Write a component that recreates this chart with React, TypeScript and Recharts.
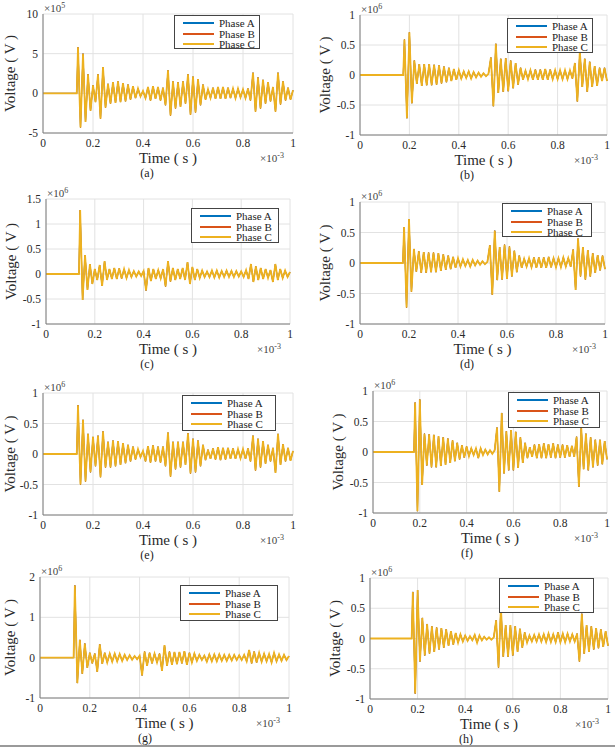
import React from 'react';
import { LineChart, Line, XAxis, YAxis, CartesianGrid, Legend } from 'recharts';

// ---------- data ----------
const xTicks = [0, 0.2, 0.4, 0.6, 0.8, 1];
const xTickLabels = ['0', '0.2', '0.4', '0.6', '0.8', '1'];
const seriesNames = ['Phase A', 'Phase B', 'Phase C'];

const timeAC = [0, 0.135, 0.14, 0.15, 0.16, 0.17, 0.18, 0.19, 0.2, 0.21, 0.22, 0.23, 0.24, 0.25, 0.26, 0.27, 0.28, 0.29, 0.3, 0.31, 0.32, 0.33, 0.34, 0.35, 0.36, 0.37, 0.38, 0.39, 0.4, 0.41, 0.42, 0.43, 0.44, 0.45, 0.46, 0.47, 0.48, 0.49, 0.5, 0.51, 0.52, 0.53, 0.54, 0.55, 0.56, 0.57, 0.58, 0.59, 0.6, 0.61, 0.62, 0.63, 0.64, 0.65, 0.66, 0.67, 0.68, 0.69, 0.7, 0.71, 0.72, 0.73, 0.74, 0.75, 0.76, 0.77, 0.78, 0.79, 0.8, 0.81, 0.82, 0.83, 0.84, 0.85, 0.86, 0.87, 0.88, 0.89, 0.9, 0.91, 0.92, 0.93, 0.94, 0.95, 0.96, 0.97, 0.98, 0.99, 1];

const timeBD = [0, 0.175, 0.18, 0.19, 0.2, 0.21, 0.22, 0.23, 0.24, 0.25, 0.26, 0.27, 0.28, 0.29, 0.3, 0.31, 0.32, 0.33, 0.34, 0.35, 0.36, 0.37, 0.38, 0.39, 0.4, 0.41, 0.42, 0.43, 0.44, 0.45, 0.46, 0.47, 0.48, 0.49, 0.5, 0.51, 0.52, 0.53, 0.54, 0.55, 0.56, 0.57, 0.58, 0.59, 0.6, 0.61, 0.62, 0.63, 0.64, 0.65, 0.66, 0.67, 0.68, 0.69, 0.7, 0.71, 0.72, 0.73, 0.74, 0.75, 0.76, 0.77, 0.78, 0.79, 0.8, 0.81, 0.82, 0.83, 0.84, 0.85, 0.86, 0.87, 0.88, 0.89, 0.9, 0.91, 0.92, 0.93, 0.94, 0.95, 0.96, 0.97, 0.98, 0.99, 1];

// (a) x10^5
const voltA = [0, 0,
  5.8, -4.3, 5.0, -3.6, 2.4, -2.2, 1.0, -1.1, 2.4, -3.2,
  3.3, -1.8, 1.2, -1.3, 1.4, -1.2, 1.5, -1.1, 1.3, -1.0,
  1.1, -0.8, 0.9, -0.6, 0.6, -0.4, 0.3, -0.6, 0.8, -0.9,
  0.9, -0.7, 0.8, -0.9, 0.7, -1.5, 2.9, -2.8, 1.5, -1.9,
  1.4, -1.7, 1.5, -1.3, 2.4, -2.7, 2.1, -2.4, 1.8, -1.5,
  1.1, -0.8, 0.5, -0.6, 0.7, -0.7, 0.8, -0.7, 0.8, -0.7,
  0.7, -0.6, 0.6, -0.6, 0.6, -0.5, 0.5, -0.6, 0.6, -0.9,
  2.6, -2.3, 2.0, -1.9, 1.7, -1.3, 1.4, -1.0, 0.8, -2.3,
  2.6, -1.4, 1.5, -0.9, 0.7, -0.8, 0.4];

// (c) x10^6
const voltC = [0, 0,
  1.28, -0.52, 0.38, -0.32, 0.20, -0.20, 0.10, -0.12, 0.18, -0.24,
  0.26, -0.12, 0.10, -0.10, 0.12, -0.10, 0.11, -0.09, 0.10, -0.08,
  0.08, -0.06, 0.06, -0.05, 0.05, -0.04, 0.06, -0.33, 0.12, -0.14,
  0.10, -0.10, 0.08, -0.09, 0.10, -0.25, 0.26, -0.15, 0.12, -0.12,
  0.10, -0.10, 0.12, -0.12, 0.24, -0.20, 0.14, -0.12, 0.10, -0.08,
  0.07, -0.06, 0.05, -0.06, 0.07, -0.07, 0.07, -0.07, 0.06, -0.06,
  0.07, -0.06, 0.06, -0.06, 0.06, -0.05, 0.05, -0.06, 0.08, -0.10,
  0.20, -0.16, 0.15, -0.12, 0.12, -0.10, 0.10, -0.08, 0.08, -0.16,
  0.20, -0.12, 0.10, -0.08, 0.07, -0.06, 0.04];

// (e) x10^6
const voltE = [0, 0,
  0.80, -0.50, 0.56, -0.45, 0.33, -0.30, 0.28, -0.20, 0.30, -0.38,
  0.37, -0.22, 0.20, -0.22, 0.22, -0.20, 0.21, -0.18, 0.18, -0.15,
  0.15, -0.12, 0.12, -0.09, 0.08, -0.05, 0.05, -0.12, 0.13, -0.14,
  0.14, -0.12, 0.12, -0.14, 0.12, -0.20, 0.35, -0.37, 0.20, -0.25,
  0.20, -0.22, 0.20, -0.18, 0.34, -0.32, 0.25, -0.30, 0.22, -0.20,
  0.15, -0.10, 0.07, -0.08, 0.09, -0.09, 0.11, -0.10, 0.10, -0.09,
  0.10, -0.08, 0.09, -0.08, 0.08, -0.07, 0.08, -0.08, 0.09, -0.12,
  0.30, -0.27, 0.25, -0.22, 0.21, -0.16, 0.15, -0.12, 0.10, -0.31,
  0.33, -0.18, 0.16, -0.12, 0.10, -0.11, 0.05];

// (g) x10^6
const voltG = [0, 0,
  1.79, -0.63, 0.44, -0.40, 0.35, -0.25, 0.12, -0.14, 0.10, -0.35,
  0.33, -0.15, 0.12, -0.12, 0.10, -0.10, 0.10, -0.09, 0.09, -0.08,
  0.07, -0.06, 0.06, -0.05, 0.04, -0.04, 0.05, -0.44, 0.15, -0.20,
  0.12, -0.14, 0.10, -0.12, 0.10, -0.33, 0.31, -0.20, 0.15, -0.18,
  0.14, -0.16, 0.14, -0.14, 0.16, -0.18, 0.12, -0.12, 0.10, -0.08,
  0.07, -0.06, 0.05, -0.10, 0.08, -0.09, 0.08, -0.09, 0.08, -0.08,
  0.07, -0.08, 0.07, -0.07, 0.07, -0.06, 0.06, -0.06, 0.07, -0.09,
  0.19, -0.14, 0.15, -0.12, 0.12, -0.10, 0.10, -0.09, 0.09, -0.12,
  0.12, -0.09, 0.08, -0.08, 0.07, -0.06, 0.04];

// (b) x10^6
const voltB = [0, 0,
  0.59, -0.72, 0.71, -0.47, 0.24, -0.15, 0.18, -0.18, 0.18, -0.17,
  0.18, -0.17, 0.17, -0.16, 0.16, -0.14, 0.14, -0.12, 0.12, -0.10,
  0.10, -0.08, 0.08, -0.06, 0.06, -0.05, 0.06, -0.06, 0.05, -0.04,
  0.04, -0.03, 0.03, -0.02, 0.02, 0.29, -0.52, 0.52, -0.30, 0.27,
  -0.28, 0.28, -0.27, 0.24, -0.22, 0.20, -0.16, 0.12, -0.08, 0.07,
  -0.07, 0.08, -0.08, 0.09, -0.08, 0.09, -0.08, 0.10, -0.08, 0.09,
  -0.07, 0.08, -0.07, 0.08, -0.07, 0.08, -0.07, 0.08, -0.06, 0.20,
  -0.44, 0.39, -0.20, 0.27, -0.28, 0.22, -0.20, 0.15, -0.18, 0.12,
  -0.10, 0.12, -0.10];

// (d) x10^6
const voltD = [0, 0,
  0.59, -0.73, 0.72, -0.47, 0.23, -0.14, 0.19, -0.16, 0.18, -0.16,
  0.17, -0.15, 0.17, -0.15, 0.16, -0.13, 0.14, -0.11, 0.12, -0.10,
  0.10, -0.08, 0.08, -0.06, 0.06, -0.05, 0.05, -0.06, 0.05, -0.04,
  0.04, -0.03, 0.03, -0.02, 0.02, 0.29, -0.52, 0.53, -0.28, 0.26,
  -0.27, 0.30, -0.26, 0.27, -0.22, 0.20, -0.15, 0.12, -0.08, 0.07,
  -0.06, 0.08, -0.07, 0.09, -0.08, 0.09, -0.08, 0.09, -0.08, 0.10,
  -0.07, 0.08, -0.07, 0.08, -0.07, 0.09, -0.06, 0.08, -0.06, 0.22,
  -0.44, 0.40, -0.22, 0.26, -0.27, 0.21, -0.22, 0.16, -0.16, 0.13,
  -0.12, 0.12, -0.10];

// (f) x10^6
const voltF = [0, 0,
  0.81, -0.97, 0.86, -0.54, 0.30, -0.22, 0.29, -0.25, 0.28, -0.25,
  0.26, -0.23, 0.24, -0.21, 0.22, -0.18, 0.19, -0.15, 0.15, -0.12,
  0.11, -0.09, 0.09, -0.07, 0.06, -0.05, 0.06, -0.10, 0.06, -0.05,
  0.04, -0.04, 0.03, -0.03, 0.03, 0.40, -0.65, 0.64, -0.35, 0.34,
  -0.30, 0.36, -0.30, 0.33, -0.26, 0.24, -0.18, 0.15, -0.10, 0.08,
  -0.08, 0.12, -0.10, 0.13, -0.10, 0.14, -0.10, 0.13, -0.09, 0.14,
  -0.10, 0.12, -0.09, 0.12, -0.09, 0.11, -0.08, 0.10, -0.08, 0.25,
  -0.57, 0.39, -0.28, 0.30, -0.30, 0.24, -0.25, 0.20, -0.22, 0.20,
  -0.20, 0.18, -0.12];

// (h) x10^6
const voltH = [0, 0,
  0.77, -0.91, 0.80, -0.38, 0.34, -0.28, 0.24, -0.25, 0.20, -0.22,
  0.18, -0.18, 0.17, -0.15, 0.15, -0.12, 0.12, -0.10, 0.09, -0.07,
  0.07, -0.05, 0.05, -0.04, 0.04, -0.03, 0.06, -0.07, 0.05, -0.03,
  0.03, -0.02, 0.02, -0.02, 0.02, 0.30, -0.48, 0.52, -0.30, 0.22,
  -0.30, 0.22, -0.28, 0.20, -0.22, 0.16, -0.15, 0.10, -0.07, 0.05,
  -0.05, 0.06, -0.05, 0.07, -0.05, 0.07, -0.06, 0.08, -0.06, 0.07,
  -0.06, 0.10, -0.06, 0.08, -0.06, 0.08, -0.05, 0.07, -0.05, 0.08,
  -0.38, 0.41, -0.25, 0.22, -0.22, 0.20, -0.18, 0.17, -0.16, 0.15,
  -0.14, 0.12, -0.12];

const yTicks5 = [-5, 0, 5, 10];
const yTicksStd = [-1, -0.5, 0, 0.5, 1];
const yTicksC = [-1, -0.5, 0, 0.5, 1, 1.5];
const yTicksG = [-1, 0, 1, 2];

// ---------- layout ----------
const FONT = "'Liberation Serif', 'Times New Roman', Times, serif";
const COLORS = ['#0072BD', '#D95319', '#EDB120'];
const WIDTHS = [1, 1, 1.8];
const BOX = '#7d7d7d';
const TXT = '#2a2a2a';

const panels = [
  { id: '(a)', time: timeAC, vals: voltA, yTicks: yTicks5, exp: '5', L: 43, T: 14, R: 293, B: 133, leg: [174, 15, 86, 34], cap: 147 },
  { id: '(b)', time: timeBD, vals: voltB, yTicks: yTicksStd, exp: '6', L: 360, T: 15, R: 607, B: 135, leg: [507, 18, 86, 35], cap: 467 },
  { id: '(c)', time: timeAC, vals: voltC, yTicks: yTicksC, exp: '6', L: 46, T: 199, R: 290, B: 324, leg: [191, 208, 88, 35], cap: 147 },
  { id: '(d)', time: timeBD, vals: voltD, yTicks: yTicksStd, exp: '6', L: 360, T: 202, R: 605, B: 324, leg: [502, 203, 90, 34], cap: 467 },
  { id: '(e)', time: timeAC, vals: voltE, yTicks: yTicksStd, exp: '6', L: 43, T: 393, R: 293, B: 515, leg: [182, 395, 94, 36], cap: 147 },
  { id: '(f)', time: timeBD, vals: voltF, yTicks: yTicksStd, exp: '6', L: 373, T: 391, R: 607, B: 513, leg: [508, 392, 92, 36], cap: 467 },
  { id: '(g)', time: timeAC, vals: voltG, yTicks: yTicksG, exp: '6', L: 40, T: 577, R: 289, B: 698, leg: [180, 585, 98, 36], cap: 145 },
  { id: '(h)', time: timeBD, vals: voltH, yTicks: yTicksStd, exp: '6', L: 370, T: 578, R: 608, B: 699, leg: [499, 578, 95, 35], cap: 466 },
];

const makeLegend = (w: number, h: number) => (props: any) => {
  const payload = props.payload || [];
  return (
    <div style={{ width: w, height: h, boxSizing: 'border-box', border: '1px solid #444', background: '#fff', paddingTop: 2, fontFamily: FONT, fontSize: 11, color: '#222' }}>
      {payload.map((e: any) => (
        <div key={e.value} style={{ display: 'flex', alignItems: 'center', height: 10.5, whiteSpace: 'nowrap' }}>
          <span style={{ display: 'inline-block', width: 31, height: 0, borderTop: `2px solid ${e.color}`, marginLeft: 8, marginRight: 5 }} />
          <span style={{ fontFamily: FONT }}>{e.value}</span>
        </div>
      ))}
    </div>
  );
};

function Panel({ p }: { p: any }) {
  const W = 45, TOP = 14, RIGHT = 10, BOTTOM = 60;
  const left = p.L - W;
  const top = p.T - TOP;
  const width = p.R - p.L + W + RIGHT;
  const height = p.B - p.T + TOP + BOTTOM;
  const domain = [p.yTicks[0], p.yTicks[p.yTicks.length - 1]];
  const data = p.time.map((t: number, i: number) => ({ t, a: p.vals[i], b: p.vals[i], c: p.vals[i] }));
  const [lx, ly, lw, lh] = p.leg;
  const labelCenter = Math.max(10, p.L - 35);
  const labelOffset = labelCenter - left;
  return (
    <>
      <div style={{ position: 'absolute', left, top, width, height }}>
        <LineChart width={width} height={height} data={data} margin={{ top: TOP, right: RIGHT, bottom: 0, left: 0 }}>
          <CartesianGrid stroke="#e2e2e2" strokeWidth={1} />
          <XAxis
            dataKey="t" type="number" domain={[0, 1]} ticks={xTicks}
            tickFormatter={(v: number, i: number) => xTickLabels[i] ?? String(v)}
            height={BOTTOM} tickSize={0} tickMargin={6} axisLine={{ stroke: BOX }}
            tick={{ fill: TXT, fontSize: 11.5, fontFamily: FONT }}
            label={{ value: 'Time ( s )', position: 'insideTop', offset: 19, style: { fill: TXT, fontSize: 15, fontFamily: FONT } }}
          />
          <XAxis xAxisId="top" orientation="top" type="number" domain={[0, 1]} height={0} tick={false} tickLine={false} axisLine={{ stroke: BOX }} />
          <YAxis
            type="number" domain={domain} ticks={p.yTicks} width={W} tickSize={0} tickMargin={5}
            axisLine={{ stroke: BOX }} tick={{ fill: TXT, fontSize: 11.5, fontFamily: FONT }}
            label={{ value: 'Voltage ( V )', angle: -90, position: 'insideLeft', offset: labelOffset, style: { textAnchor: 'middle', fill: TXT, fontSize: 15, fontFamily: FONT } }}
          />
          <YAxis yAxisId="right" orientation="right" type="number" domain={domain} width={0} tick={false} tickLine={false} axisLine={{ stroke: BOX }} />
          <Legend
            layout="vertical" align="center" verticalAlign="middle"
            content={makeLegend(lw, lh)}
            wrapperStyle={{ left: lx - left, top: ly - top, width: lw, height: lh }}
          />
          <Line type="linear" dataKey="a" name={seriesNames[0]} stroke={COLORS[0]} strokeWidth={WIDTHS[0]} dot={false} isAnimationActive={false} />
          <Line type="linear" dataKey="b" name={seriesNames[1]} stroke={COLORS[1]} strokeWidth={WIDTHS[1]} dot={false} isAnimationActive={false} />
          <Line type="linear" dataKey="c" name={seriesNames[2]} stroke={COLORS[2]} strokeWidth={WIDTHS[2]} dot={false} isAnimationActive={false} />
        </LineChart>
      </div>
      <div style={{ position: 'absolute', left: p.L + 1, top: p.T - 12, fontFamily: FONT, fontSize: 11, lineHeight: '12px', color: '#444', whiteSpace: 'nowrap' }}>
        ×10<span style={{ fontSize: 8, position: 'relative', top: -4 }}>{p.exp}</span>
      </div>
      <div style={{ position: 'absolute', left: p.R - 33, top: p.B + 19, fontFamily: FONT, fontSize: 11, lineHeight: '12px', color: '#444', whiteSpace: 'nowrap' }}>
        ×10<span style={{ fontSize: 8, position: 'relative', top: -4 }}>-3</span>
      </div>
      <div style={{ position: 'absolute', left: p.cap - 20, width: 40, top: p.B + 34, textAlign: 'center', fontFamily: FONT, fontSize: 12, lineHeight: '12px', color: '#222' }}>
        {p.id}
      </div>
    </>
  );
}

export default function App() {
  return (
    <div style={{ position: 'absolute', left: 0, top: 0, width: 615, height: 750, background: '#fff', overflow: 'hidden' }}>
      {panels.map((p) => <Panel key={p.id} p={p} />)}
      <div style={{ position: 'absolute', left: 0, top: 745, width: 615, height: 2, background: '#9a9a9a' }} />
    </div>
  );
}
